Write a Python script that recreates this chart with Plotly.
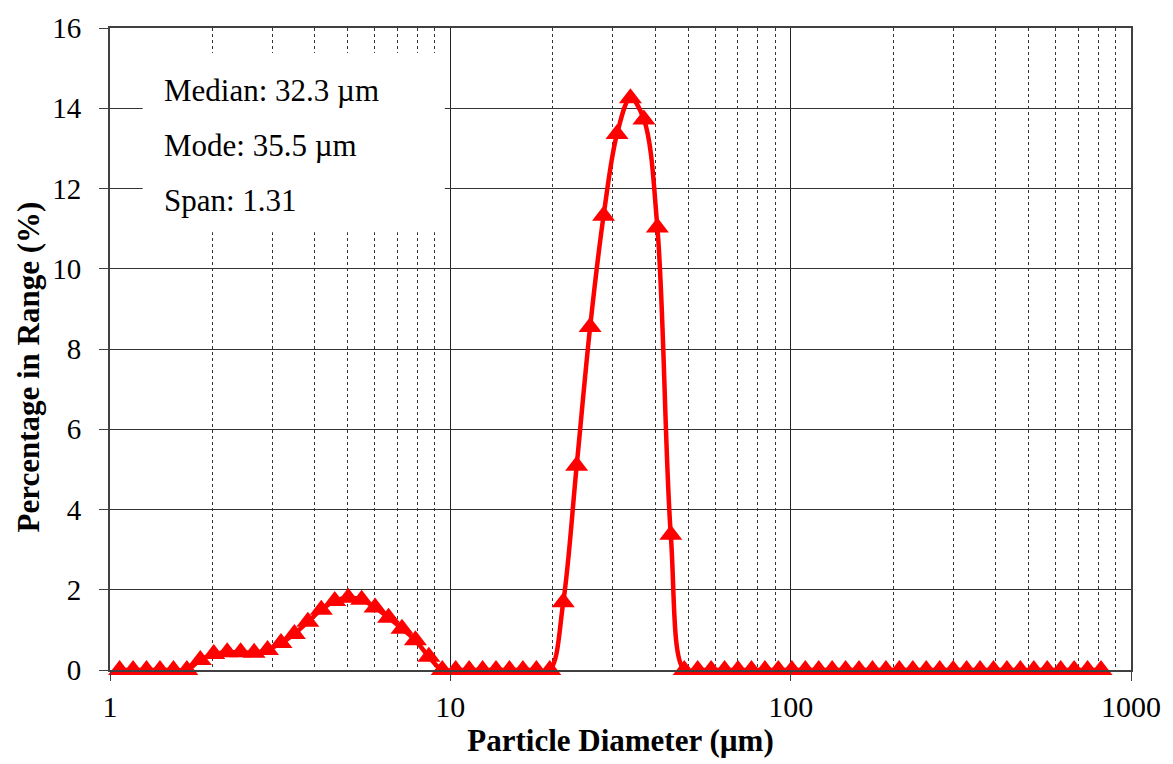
import plotly.graph_objects as go

# Particle diameters (µm), log-spaced size classes
diameter_um = [
    1.067, 1.169, 1.280, 1.402, 1.536, 1.682, 1.842, 2.018, 2.210, 2.420,
    2.651, 2.903, 3.180, 3.482, 3.814, 4.177, 4.575, 5.011, 5.488, 6.010,
    6.583, 7.210, 7.896, 8.648, 9.469, 10.37, 11.36, 12.44, 13.62, 14.92,
    16.34, 17.90, 19.60, 21.47, 23.51, 25.75, 28.20, 30.89, 33.82, 37.05,
    40.58, 44.44, 48.67, 53.31, 58.38, 63.94, 70.03, 76.69, 84.00, 91.99,
    100.8, 110.4, 120.9, 132.4, 145.0, 158.8, 173.9, 190.5, 208.6, 228.5,
    250.2, 274.1, 300.2, 328.8, 360.1, 394.4, 431.9, 473.0, 518.1, 567.4,
    621.4, 680.6, 745.4, 816.3,
]

# Percentage in range (%)
percent_in_range = [
    0, 0, 0, 0, 0, 0, 0.25, 0.40, 0.44, 0.44,
    0.43, 0.50, 0.67, 0.90, 1.20, 1.50, 1.72, 1.80, 1.75, 1.56,
    1.30, 1.03, 0.74, 0.33, 0, 0, 0, 0, 0, 0,
    0, 0, 0, 1.69, 5.09, 8.55, 11.32, 13.36, 14.25, 13.72,
    11.03, 3.37, 0, 0, 0, 0, 0, 0, 0, 0,
    0, 0, 0, 0, 0, 0, 0, 0, 0, 0,
    0, 0, 0, 0, 0, 0, 0, 0, 0, 0,
    0, 0, 0, 0,
]

x_tick_values = [1, 10, 100, 1000]
x_tick_labels = ["1", "10", "100", "1000"]
y_tick_values = [0, 2, 4, 6, 8, 10, 12, 14, 16]

stats_lines = ["Median: 32.3 µm", "Mode: 35.5 µm", "Span: 1.31"]

FONT = "Liberation Serif, Times New Roman, serif"

fig = go.Figure()
fig.add_trace(go.Scatter(
    x=diameter_um,
    y=percent_in_range,
    mode="lines+markers",
    line=dict(color="#FF0000", width=4.5, shape="spline", smoothing=1.0),
    marker=dict(symbol="triangle-up", size=20, color="#FF0000"),
    cliponaxis=False,
    showlegend=False,
))

# white box behind statistics text (hides the gridlines there)
fig.add_shape(type="rect", xref="paper", yref="paper",
              x0=0.032, x1=0.328, y0=0.682, y1=0.961,
              fillcolor="white", line=dict(width=0), layer="above")

for i, txt in enumerate(stats_lines):
    fig.add_annotation(xref="paper", yref="paper", x=0.0505,
                       y=0.903 - i * 0.0862, text=txt, showarrow=False,
                       xanchor="left", yanchor="middle",
                       font=dict(family=FONT, size=31, color="black"))

# y-axis title (placed slightly below centre, as in the original)
fig.add_annotation(xref="paper", yref="paper", x=-0.0798, y=0.472,
                   text="<b>Percentage in Range (%)</b>", textangle=-90,
                   showarrow=False, xanchor="center", yanchor="middle",
                   font=dict(family=FONT, size=31, color="black"))

fig.update_layout(
    width=1173, height=764,
    margin=dict(l=110, r=35, t=25, b=93),
    paper_bgcolor="white", plot_bgcolor="white",
    font=dict(family=FONT, size=29, color="black"),
    xaxis=dict(
        type="log", range=[0, 3],
        tickvals=x_tick_values, ticktext=x_tick_labels,
        showgrid=True, gridcolor="#222222", gridwidth=1,
        minor=dict(dtick="D1", showgrid=True, gridcolor="#333333",
                   griddash="dot", gridwidth=1, ticks=""),
        showline=True, linecolor="#404040", linewidth=2, mirror=True,
        ticks="outside", ticklen=9, tickcolor="#404040", tickwidth=1,
        tickfont=dict(family=FONT, size=30),
        title=dict(text="<b>Particle Diameter (µm)</b>",
                   font=dict(family=FONT, size=31), standoff=7),
        zeroline=False,
    ),
    yaxis=dict(
        range=[0, 16], tickvals=y_tick_values,
        showgrid=True, gridcolor="#333333", gridwidth=1,
        showline=True, linecolor="#404040", linewidth=2, mirror=True,
        ticks="outside", ticklen=9, tickcolor="#404040", tickwidth=1,
        tickfont=dict(family=FONT, size=29),
        ticklabelstandoff=12,
        zeroline=False,
    ),
)

fig.write_html("out.html")
